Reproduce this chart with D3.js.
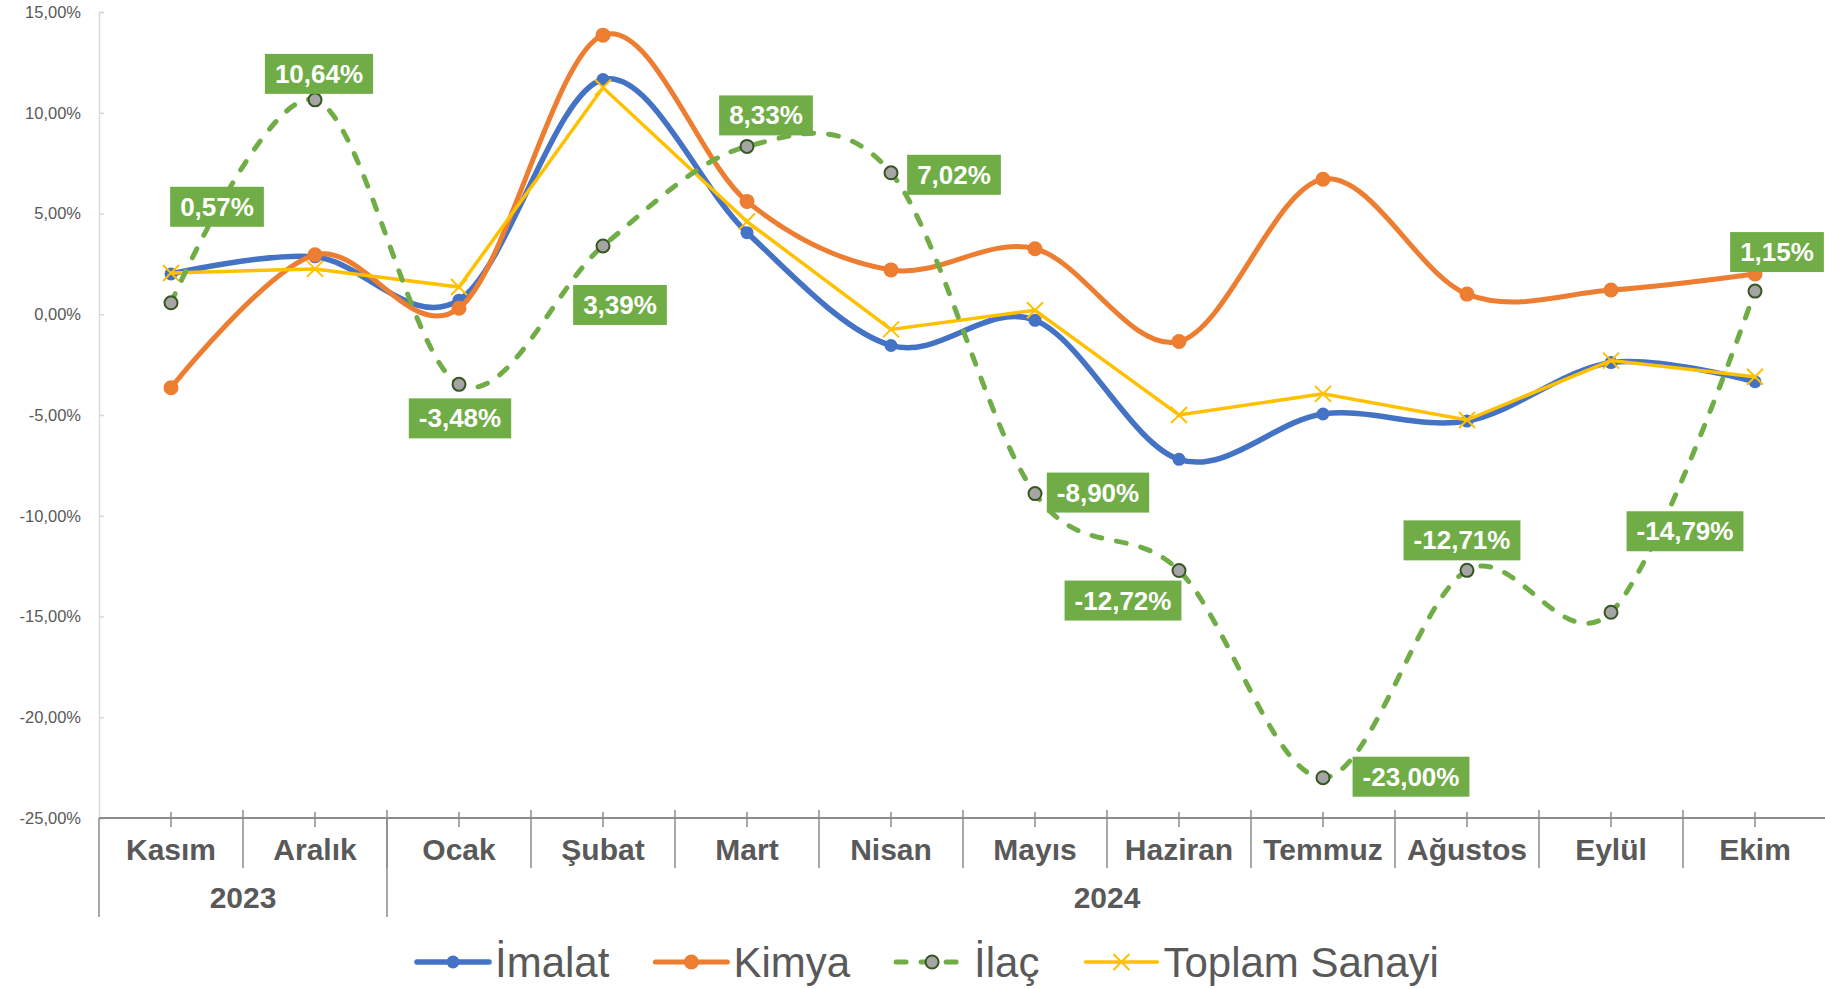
<!DOCTYPE html>
<html>
<head>
<meta charset="utf-8">
<script src="https://cdn.jsdelivr.net/npm/d3@7"></script>
<style>
  body { margin: 0; background: #fff; }
  svg { display: block; font-family: "Liberation Sans", Arial, sans-serif; }
</style>
</head>
<body>
<div id="chart-area"></div>
<script>

const months = ["Kasım", "Aralık", "Ocak", "Şubat", "Mart", "Nisan", "Mayıs", "Haziran", "Temmuz", "Ağustos", "Eylül", "Ekim"];
const yearLabels = ["2023", "2024"];
const yearSpans = [2, 10];
const yTicks = [15, 10, 5, 0, -5, -10, -15, -20, -25];

const imalat = [2.0, 2.85, 0.7, 11.65, 4.05, -1.55, -0.3, -7.2, -4.95, -5.3, -2.4, -3.35];
const kimya = [-3.65, 2.95, 0.3, 13.85, 5.6, 2.2, 3.25, -1.35, 6.7, 1.0, 1.2, 2.0];
const ilac = [0.57, 10.64, -3.48, 3.39, 8.33, 7.02, -8.90, -12.72, -23.00, -12.71, -14.79, 1.15];
const toplam = [2.05, 2.25, 1.35, 11.25, 4.6, -0.75, 0.2, -5.0, -3.95, -5.25, -2.3, -3.1];

// where each İlaç label box sits, relative to its point
const labelOffsets = [[46, -96], [4, -26], [1, 34], [17, 59], [19, -31], [63, 2], [63, -1], [-56, 30], [88, -1], [-5, -30], [74, -81], [22, -39]];

const width = 1825, height = 989;

const svg = d3.select("#chart-area")
    .append("svg")
    .attr("width", width)
    .attr("height", height);

const x = d3.scaleBand().domain(months).range([99, 1827]);
const y = d3.scaleLinear().domain([-25, 15]).range([818, 12]);

const tr = d3.formatLocale({decimal: ",", thousands: ".", grouping: [3], currency: ["", ""], minus: "-"});
const pct = v => tr.format(".2f")(v) + "%";

// y axis
const yAxis = svg.append("g")
    .attr("transform", "translate(99,0)")
    .call(d3.axisLeft(y).tickValues(yTicks).tickSize(-5).tickPadding(18).tickFormat(pct));
yAxis.select(".domain").attr("stroke", "#d9d9d9").attr("stroke-width", 1.5);
yAxis.selectAll(".tick line").attr("stroke", "#d9d9d9").attr("stroke-width", 1.5);
yAxis.selectAll(".tick text")
    .attr("fill", "#595959")
    .attr("font-size", "16.5px")
    .attr("font-family", "Liberation Sans, Arial, sans-serif");

// x axis
const axisY = y(-25);
const xg = svg.append("g");
xg.append("line")
    .attr("x1", 99).attr("x2", 1827)
    .attr("y1", axisY).attr("y2", axisY)
    .attr("stroke", "#8c8c8c").attr("stroke-width", 2);

xg.selectAll(".ctick")
    .data(months)
    .enter()
    .append("line")
    .attr("x1", d => x(d) + x.bandwidth() / 2)
    .attr("x2", d => x(d) + x.bandwidth() / 2)
    .attr("y1", axisY - 6).attr("y2", axisY + 9)
    .attr("stroke", "#8c8c8c").attr("stroke-width", 1.5);

xg.selectAll(".btick")
    .data(months.slice(1))
    .enter()
    .append("line")
    .attr("x1", d => x(d))
    .attr("x2", d => x(d))
    .attr("y1", axisY - 8).attr("y2", axisY + 50)
    .attr("stroke", "#8c8c8c").attr("stroke-width", 1.5);

xg.selectAll(".mlabel")
    .data(months)
    .enter()
    .append("text")
    .attr("x", d => x(d) + x.bandwidth() / 2)
    .attr("y", axisY + 42)
    .attr("text-anchor", "middle")
    .attr("font-size", "30px")
    .attr("font-weight", "bold")
    .attr("fill", "#595959")
    .text(d => d);

// year groups
let start = 0;
const groups = yearLabels.map((lab, i) => {
    const g = {label: lab, x0: x(months[start]), x1: x(months[start]) + yearSpans[i] * x.bandwidth()};
    start += yearSpans[i];
    return g;
});
xg.selectAll(".ysep")
    .data(groups)
    .enter()
    .append("line")
    .attr("x1", d => d.x0).attr("x2", d => d.x0)
    .attr("y1", axisY).attr("y2", axisY + 99)
    .attr("stroke", "#8c8c8c").attr("stroke-width", 1.5);
xg.selectAll(".ylabel")
    .data(groups)
    .enter()
    .append("text")
    .attr("x", d => (d.x0 + d.x1) / 2)
    .attr("y", axisY + 90)
    .attr("text-anchor", "middle")
    .attr("font-size", "30px")
    .attr("font-weight", "bold")
    .attr("fill", "#595959")
    .text(d => d.label);

// series
const cx = i => x(months[i]) + x.bandwidth() / 2;
const smooth = d3.line().x((d, i) => cx(i)).y(d => y(d)).curve(d3.curveCardinal.tension(0));
const straight = d3.line().x((d, i) => cx(i)).y(d => y(d));

const series = [
    {name: "İmalat", values: imalat, color: "#4472C4", width: 5.5, line: smooth, marker: "dot", r: 6.5},
    {name: "Kimya", values: kimya, color: "#ED7D31", width: 5, line: smooth, marker: "dot", r: 7.5},
    {name: "İlaç", values: ilac, color: "#70AD47", width: 5, line: smooth, marker: "ring", r: 6.5, dash: "10,15"},
    {name: "Toplam Sanayi", values: toplam, color: "#FFC000", width: 3.5, line: straight, marker: "x", r: 8}
];
const drawOrder = [0, 1, 3, 2];

function drawMarker(g, s, px, py) {
    if (s.marker === "dot") {
        g.append("circle").attr("cx", px).attr("cy", py).attr("r", s.r).attr("fill", s.color);
    } else if (s.marker === "ring") {
        g.append("circle").attr("cx", px).attr("cy", py).attr("r", s.r)
            .attr("fill", "#A5A5A5").attr("stroke", "#375623").attr("stroke-width", 2);
    } else {
        g.append("path")
            .attr("d", `M${px - s.r},${py - s.r}L${px + s.r},${py + s.r}M${px - s.r},${py + s.r}L${px + s.r},${py - s.r}`)
            .attr("stroke", s.color).attr("stroke-width", 2);
    }
}

drawOrder.forEach(k => {
    const s = series[k];
    const g = svg.append("g");
    g.append("path")
        .attr("d", s.line(s.values))
        .attr("fill", "none")
        .attr("stroke", s.color)
        .attr("stroke-width", s.width)
        .attr("stroke-linecap", "round")
        .attr("stroke-dasharray", s.dash || null);
    s.values.forEach((v, i) => drawMarker(g, s, cx(i), y(v)));
});

// İlaç data labels
const lg = svg.append("g");
ilac.forEach((v, i) => {
    const bx = cx(i) + labelOffsets[i][0];
    const by = y(v) + labelOffsets[i][1];
    const box = lg.append("rect").attr("fill", "#70AD47");
    const t = lg.append("text")
        .attr("x", bx)
        .attr("y", by + 9)
        .attr("text-anchor", "middle")
        .attr("font-size", "26px")
        .attr("font-weight", "bold")
        .attr("fill", "#fff")
        .text(pct(v));
    const w = t.node().getComputedTextLength() + 20;
    box.attr("x", bx - w / 2).attr("y", by - 20).attr("width", w).attr("height", 40);
});

// legend
const leg = svg.append("g");
let lx = 417;
const legY = 962;
series.forEach(s => {
    leg.append("line")
        .attr("x1", lx).attr("x2", lx + 72)
        .attr("y1", legY).attr("y2", legY)
        .attr("stroke", s.color)
        .attr("stroke-width", s.width)
        .attr("stroke-linecap", "round")
        .attr("stroke-dasharray", s.dash || null);
    drawMarker(leg, s, lx + 36, legY);
    const t = leg.append("text")
        .attr("x", lx + 78)
        .attr("y", legY + 15)
        .attr("font-size", "42px")
        .attr("fill", "#595959")
        .text(s.name);
    lx += 78 + t.node().getComputedTextLength() + 46;
});

</script>
</body>
</html>
